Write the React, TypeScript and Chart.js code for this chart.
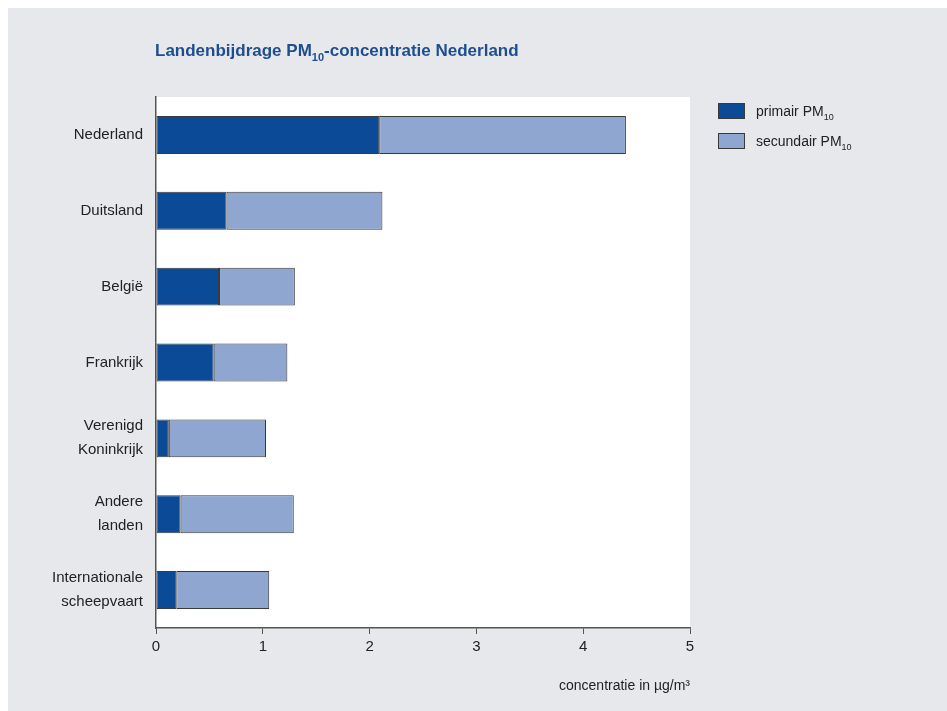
import React, { useEffect, useRef } from "react";
import { Chart, registerables } from "chart.js";

Chart.register(...registerables);

const categories: (string | string[])[] = [
  "Nederland",
  "Duitsland",
  "België",
  "Frankrijk",
  ["Verenigd", "Koninkrijk"],
  ["Andere", "landen"],
  ["Internationale", "scheepvaart"],
];
const primair = [2.09, 0.66, 0.59, 0.54, 0.12, 0.23, 0.19];
const secundair = [2.31, 1.46, 0.71, 0.69, 0.91, 1.06, 0.87];
const xTicks = [0, 1, 2, 3, 4, 5];

const DARK = "#0b4a97";
const LIGHT = "#8ea6d0";
const TITLE_COLOR = "#1d4e91";
const FONT = "'Liberation Sans', Arial, sans-serif";

function drawSubText(
  ctx: CanvasRenderingContext2D,
  parts: { t: string; sub?: boolean }[],
  x: number,
  y: number,
  size: number,
  weight: string,
  color: string
) {
  ctx.save();
  ctx.fillStyle = color;
  ctx.textBaseline = "alphabetic";
  ctx.textAlign = "left";
  let cx = x;
  for (const p of parts) {
    const s = p.sub ? Math.round(size * 0.62) : size;
    ctx.font = `${weight} ${s}px ${FONT}`;
    ctx.fillText(p.t, cx, p.sub ? y + size * 0.3 : y);
    cx += ctx.measureText(p.t).width;
  }
  ctx.restore();
}

const decorPlugin = {
  id: "decor",
  beforeDraw(chart: any) {
    const { ctx, chartArea } = chart;
    ctx.save();
    ctx.fillStyle = "#ffffff";
    ctx.fillRect(chartArea.left, chartArea.top, chartArea.right - chartArea.left, chartArea.bottom - chartArea.top);
    ctx.restore();
  },
  afterDraw(chart: any) {
    const { ctx } = chart;
    drawSubText(
      ctx,
      [{ t: "Landenbijdrage PM" }, { t: "10", sub: true }, { t: "-concentratie Nederland" }],
      147,
      48,
      17,
      "bold",
      TITLE_COLOR
    );
    const items = [
      { color: DARK, label: "primair PM" },
      { color: LIGHT, label: "secundair PM" },
    ];
    items.forEach((it, i) => {
      const y = 95 + i * 30;
      ctx.save();
      ctx.fillStyle = it.color;
      ctx.fillRect(710, y, 27, 16);
      ctx.strokeStyle = "#3a3a3a";
      ctx.lineWidth = 1;
      ctx.strokeRect(710.5, y + 0.5, 26, 15);
      ctx.restore();
      drawSubText(ctx, [{ t: it.label }, { t: "10", sub: true }], 748, y + 13, 14, "normal", "#222222");
    });
  },
};

export default function App() {
  const ref = useRef<HTMLCanvasElement | null>(null);
  useEffect(() => {
    if (!ref.current) return;
    const chart = new Chart(ref.current, {
      type: "bar",
      data: {
        labels: categories as any,
        datasets: [
          {
            label: "primair PM10",
            data: primair,
            backgroundColor: DARK,
            borderColor: "#3a3a3a",
            borderWidth: 1,
            borderSkipped: false,
            barPercentage: 0.5,
            categoryPercentage: 1,
          },
          {
            label: "secundair PM10",
            data: secundair,
            backgroundColor: LIGHT,
            borderColor: "#3a3a3a",
            borderWidth: 1,
            borderSkipped: false,
            barPercentage: 0.5,
            categoryPercentage: 1,
          },
        ],
      },
      options: {
        indexAxis: "y",
        animation: false,
        responsive: false,
        maintainAspectRatio: false,
        layout: { padding: { left: 0, top: 89, right: 257, bottom: 12 } },
        plugins: { legend: { display: false }, tooltip: { enabled: false }, title: { display: false } },
        scales: {
          x: {
            stacked: true,
            min: 0,
            max: 5,
            afterBuildTicks: (scale: any) => {
              scale.ticks = xTicks.map((v) => ({ value: v }));
            },
            afterFit: (scale: any) => {
              scale.height = 71;
            },
            grid: { drawOnChartArea: false, drawTicks: true, tickLength: 6, color: "#555555" },
            border: { display: true, color: "#555555", width: 1.5 },
            ticks: { color: "#222222", font: { family: FONT, size: 15 }, padding: 4 },
            title: {
              display: true,
              text: "concentratie in µg/m³",
              align: "end",
              color: "#222222",
              font: { family: FONT, size: 14 },
              padding: { top: 8 },
            },
          },
          y: {
            stacked: true,
            afterFit: (scale: any) => {
              scale.width = 148;
            },
            grid: { display: false, drawTicks: false },
            border: { display: true, color: "#555555", width: 1.5 },
            ticks: { color: "#222222", font: { family: FONT, size: 15, lineHeight: 1.6 }, padding: 13 },
          },
        },
      },
      plugins: [decorPlugin],
    } as any);
    return () => chart.destroy();
  }, []);
  return (
    <div
      style={{
        position: "fixed",
        left: 8,
        top: 8,
        width: 939,
        height: 703,
        background: "#e6e8eb",
      }}
    >
      <canvas ref={ref} width={939} height={703} style={{ display: "block" }} />
    </div>
  );
}
